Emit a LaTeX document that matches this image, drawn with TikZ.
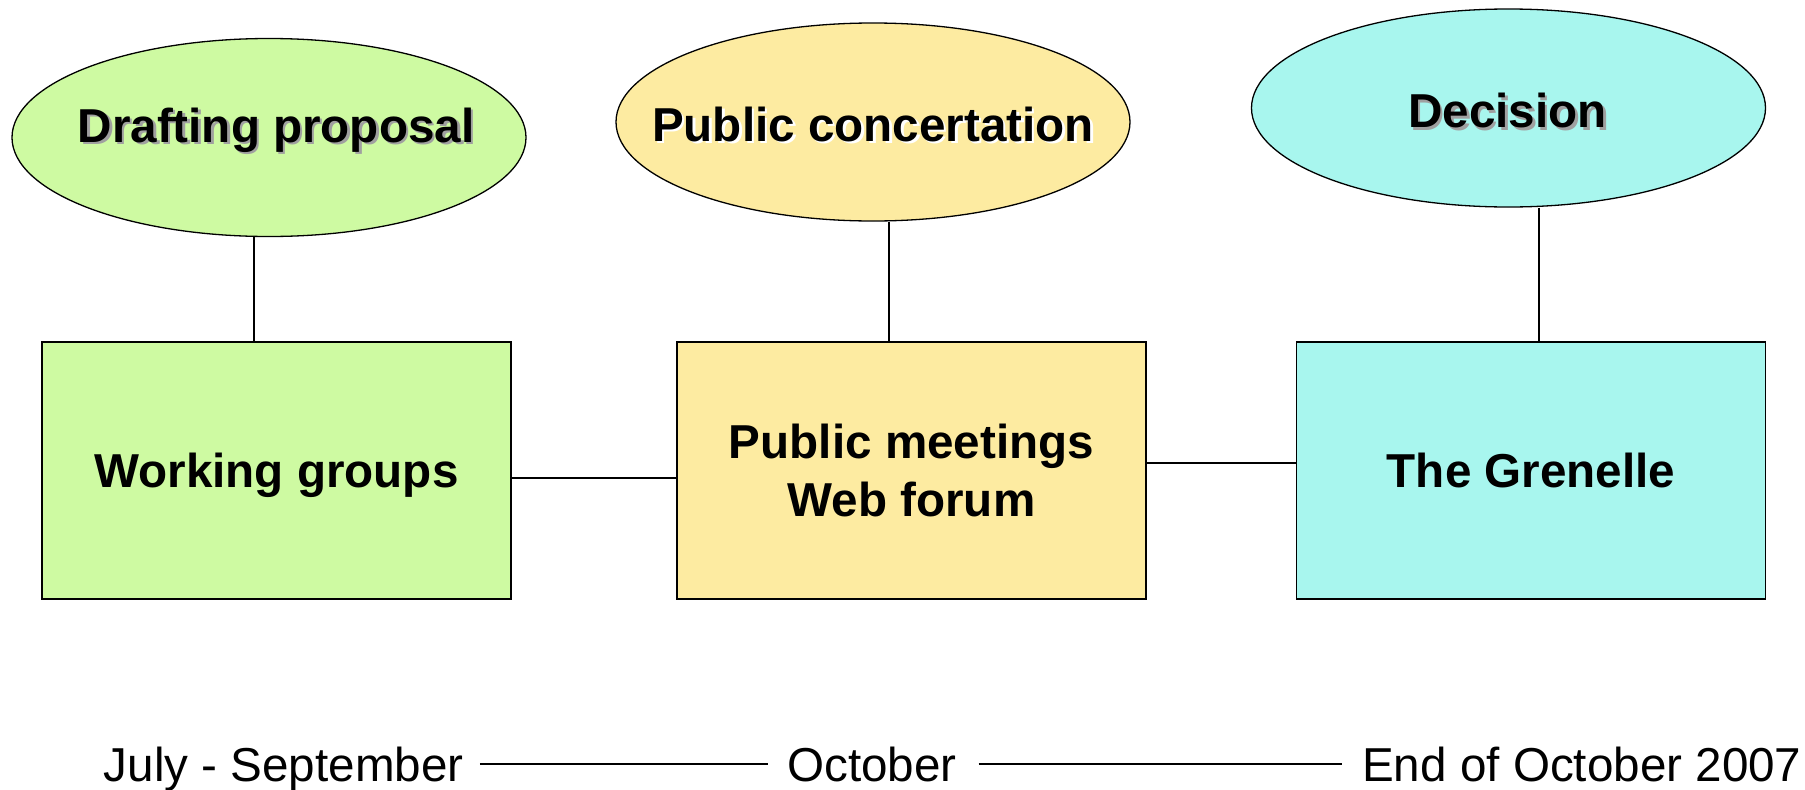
\documentclass[tikz,border=0pt]{standalone}
\usepackage{fontspec}
\setmainfont{Liberation Sans}
\usetikzlibrary{shapes.geometric}
\definecolor{cgreen}{RGB}{206,250,162}
\definecolor{cyellow}{RGB}{253,235,161}
\definecolor{ccyan}{RGB}{168,246,238}
\definecolor{cshadow}{RGB}{160,160,160}
\tikzset{
  bigfont/.style={font=\fontsize{47.6}{57.6}\selectfont},
  oval/.style={ellipse, draw=black, line width=1.3pt, minimum width=514pt, minimum height=198pt, inner sep=0pt},
  stagebox/.style={rectangle, draw=black, line width=1.5pt, minimum width=469pt, minimum height=257pt, inner sep=0pt, bigfont, font=\fontsize{47.6}{57.6}\selectfont\bfseries, align=center},
  oneline/.style={text height=34.5pt, text depth=0pt},
  titletxt/.style={font=\fontsize{47.6}{57.6}\selectfont\bfseries, anchor=base, inner sep=0pt},
  shadowtxt/.style={titletxt, text=cshadow},
  datetxt/.style={font=\fontsize{47.6}{57.6}\selectfont, anchor=base west, inner sep=0pt},
  link/.style={draw=black, line width=1.3pt}
}
\begin{document}
\begin{tikzpicture}[x=1pt,y=-1pt]
\useasboundingbox (0,0) rectangle (1805,790);
% ellipses
\node[oval, fill=cgreen] (e1) at (269,137.5) {};
\node[oval, fill=cyellow] (e2) at (873,122) {};
\node[oval, fill=ccyan] (e3) at (1508.5,108) {};
% ellipse titles with shadows
\node[shadowtxt] (t1s) at (278.5,144.5) {Drafting proposal};
\node[titletxt] (t1) at (276,142) {Drafting proposal};
\node[shadowtxt, text=white] (t2s) at (875.5,143.5) {Public concertation};
\node[titletxt] (t2) at (873,141) {Public concertation};
\node[shadowtxt] (t3s) at (1510,130) {Decision};
\node[titletxt] (t3) at (1507.5,127.5) {Decision};
% boxes
\node[stagebox, fill=cgreen, oneline] (b1) at (276.5,470.5) {Working groups};
\node[stagebox, fill=cyellow] (b2) at (911.5,470.5) {Public meetings\\Web forum};
\node[stagebox, fill=ccyan, oneline] (b3) at (1531,470.5) {The Grenelle};
% connectors
\coordinate (v1) at (254,0);
\coordinate (v2) at (889,0);
\coordinate (v3) at (1539,0);
\draw[link] (e1.south -| v1) -- (b1.north -| v1);
\draw[link] (e2.south -| v2) -- (b2.north -| v2);
\draw[link] (e3.south -| v3) -- (b3.north -| v3);
\coordinate (h1) at (0,478);
\coordinate (h2) at (0,463);
\draw[link] (b1.east |- h1) -- (b2.west |- h1);
\draw[link] (b2.east |- h2) -- (b3.west |- h2);
% timeline
\node[datetxt] (d1) at (103.6,781) {July - September};
\node[datetxt] (d2) at (787,781) {October};
\node[datetxt] (d3) at (1362,781) {End of October 2007};
\coordinate (ly) at (0,764);
\draw[link, shorten <=16pt, shorten >=19pt] (d1.east |- ly) -- (d2.west |- ly);
\draw[link, shorten <=22pt, shorten >=20pt] (d2.east |- ly) -- (d3.west |- ly);
\end{tikzpicture}
\end{document}
